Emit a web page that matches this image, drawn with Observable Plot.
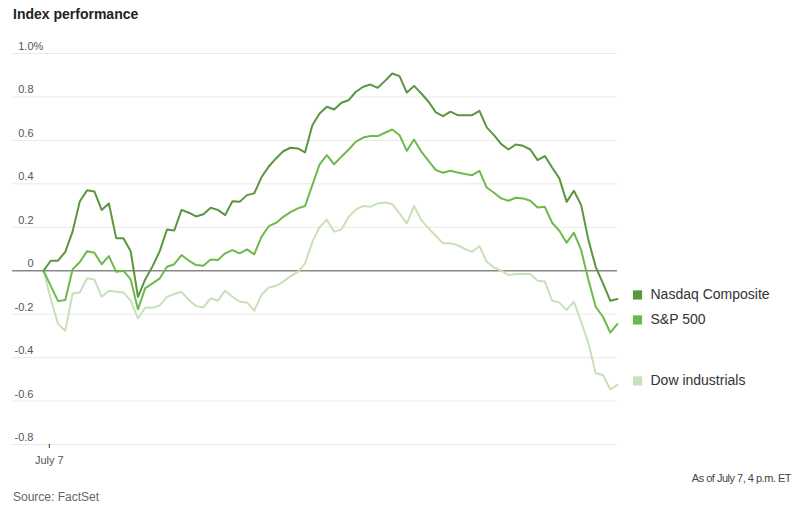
<!DOCTYPE html>
<html><head><meta charset="utf-8">
<script src="https://cdn.jsdelivr.net/npm/d3@7"></script>
<script src="https://cdn.jsdelivr.net/npm/@observablehq/plot@0.6"></script>
<style>
body{margin:0;background:#fff;width:803px;height:512px;position:relative;overflow:hidden;font-family:"Liberation Sans",Arial,sans-serif;}
#title{position:absolute;left:13px;top:7px;font-weight:bold;font-size:14px;line-height:14px;color:#222;}
#chart{position:absolute;left:0;top:30px;}
#asof{position:absolute;right:12px;top:472px;font-size:11px;line-height:13px;color:#444;letter-spacing:-0.5px;}
#source{position:absolute;left:13px;top:490px;font-size:12px;line-height:14px;color:#666;}
</style></head>
<body>
<div id="title">Index performance</div>
<div id="chart"></div>
<div id="asof">As of July 7, 4 p.m. ET</div>
<div id="source">Source: FactSet</div>
<script>
const seriesNames = ["Dow industrials", "S&P 500", "Nasdaq Composite"];
const seriesColors = ["#c8e1b9", "#6eb94b", "#5a963c"];

const nasdaq = [0,0.046,0.046,0.087,0.18,0.32,0.37,0.365,0.28,0.31,
  0.15,0.15,0.09,-0.12,-0.04,0.02,0.09,0.19,0.185,0.28,
  0.267,0.25,0.26,0.29,0.28,0.256,0.32,0.317,0.348,0.356,
  0.43,0.48,0.517,0.55,0.566,0.563,0.545,0.67,0.724,0.755,
  0.742,0.773,0.785,0.824,0.847,0.857,0.842,0.874,0.908,0.896,
  0.82,0.851,0.816,0.778,0.729,0.712,0.732,0.716,0.716,0.716,
  0.736,0.66,0.624,0.583,0.558,0.581,0.575,0.558,0.509,0.528,
  0.475,0.425,0.317,0.368,0.302,0.141,0.018,-0.058,-0.138,-0.13];

const sp500 = [0,-0.07,-0.14,-0.135,0.006,0.04,0.09,0.083,0.03,0.067,
  -0.005,0,-0.04,-0.178,-0.08,-0.058,-0.035,0.018,0.03,0.072,
  0.046,0.026,0.023,0.052,0.049,0.08,0.095,0.08,0.098,0.075,
  0.156,0.205,0.22,0.248,0.27,0.287,0.298,0.394,0.49,0.532,
  0.49,0.525,0.558,0.594,0.613,0.62,0.62,0.635,0.65,0.624,
  0.552,0.604,0.548,0.506,0.463,0.451,0.46,0.452,0.445,0.44,
  0.46,0.383,0.359,0.333,0.322,0.336,0.333,0.322,0.291,0.294,
  0.221,0.184,0.129,0.175,0.095,-0.043,-0.166,-0.212,-0.285,-0.245];

const dow = [0,-0.13,-0.245,-0.276,-0.105,-0.1,-0.035,-0.04,-0.12,-0.092,
  -0.097,-0.1,-0.138,-0.22,-0.17,-0.17,-0.16,-0.12,-0.107,-0.097,
  -0.135,-0.163,-0.169,-0.127,-0.138,-0.092,-0.12,-0.143,-0.146,-0.184,
  -0.112,-0.077,-0.07,-0.05,-0.025,-0.005,0.034,0.133,0.2,0.235,
  0.18,0.19,0.248,0.282,0.298,0.294,0.31,0.314,0.307,0.264,
  0.218,0.298,0.233,0.195,0.16,0.126,0.126,0.118,0.1,0.087,
  0.113,0.041,0.015,0,-0.02,-0.015,-0.015,-0.015,-0.046,-0.05,
  -0.138,-0.147,-0.181,-0.143,-0.235,-0.334,-0.472,-0.48,-0.546,-0.526];

const yTicks = [1.0, 0.8, 0.6, 0.4, 0.2, 0, -0.2, -0.4, -0.6, -0.8];
const yTickLabels = ["1.0%", "0.8", "0.6", "0.4", "0.2", "0", "-0.2", "-0.4", "-0.6", "-0.8"];
const xTicks = [0.8];
const xTickLabels = ["July 7"];

const seriesValues = [dow, sp500, nasdaq];
const rows = [];
seriesValues.forEach((vals, s) => vals.forEach((v, i) => rows.push({i, v, name: seriesNames[s]})));
const ends = seriesValues.map((vals, s) => ({i: vals.length - 1, v: vals[vals.length - 1], name: seriesNames[s]}));

const chart = Plot.plot({
  width: 803,
  height: 444,
  marginLeft: 12,
  marginRight: 186,
  marginTop: 23,
  marginBottom: 30,
  x: {domain: [0, 79], insetLeft: 31},
  y: {domain: [-0.8, 1.0]},
  color: {domain: seriesNames, range: seriesColors},
  style: {fontFamily: "'Liberation Sans', Arial, sans-serif", fontSize: "11px", background: "#fff"},
  marks: [
    Plot.ruleY(yTicks.filter(d => d !== 0), {stroke: "#e9e9e9", strokeWidth: 1}),
    Plot.axisY(yTicks, {anchor: "left", tickSize: 0, tickPadding: 0, dx: 21, dy: -7,
      tickFormat: d => yTickLabels[yTicks.indexOf(d)], fill: "#555", fontSize: 11, label: null}),
    Plot.ruleY([0], {stroke: "#888", strokeWidth: 1.6}),
    Plot.axisX(xTicks, {anchor: "bottom", tickSize: 4, tickPadding: 8, stroke: "#333",
      tickFormat: d => xTickLabels[xTicks.indexOf(d)], fill: "#555", fontSize: 11, label: null}),
    Plot.line(rows, {x: "i", y: "v", z: "name", stroke: "name", strokeWidth: 2, strokeLinejoin: "round"}),
    Plot.dot(ends, {x: "i", y: "v", fill: "name", symbol: "square", r: 5.2, dx: 20, dy: -4}),
    Plot.text(ends, {x: "i", y: "v", text: "name", dx: 33, dy: -4, textAnchor: "start", fontSize: 14, fill: "#333"})
  ]
});
document.getElementById("chart").appendChild(chart);

// let the "%" of the top label hang past the right-aligned numbers
d3.select(chart).selectAll('g[aria-label="y-axis tick label"] text').each(function() {
  const t = this.textContent;
  if (t.endsWith("%")) {
    const full = this.getComputedTextLength();
    const saved = t;
    this.textContent = t.slice(0, -1);
    const part = this.getComputedTextLength();
    this.textContent = saved;
    const cur = this.getAttribute("transform") || "";
    this.setAttribute("transform", cur + ` translate(${full - part},0)`);
  }
});
</script>
</body></html>
